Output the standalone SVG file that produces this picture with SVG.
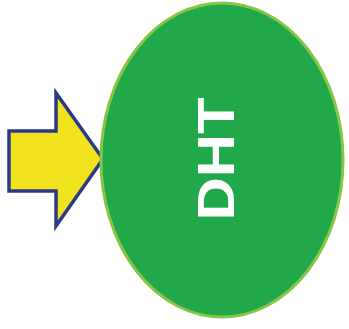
<svg xmlns="http://www.w3.org/2000/svg" width="349" height="329" viewBox="0 0 349 329">
<style>
.arrow{fill:#f0e21c;stroke:#2b3a86;stroke-width:3.5;stroke-linejoin:miter}
.node{fill:#20a84b;stroke:#86c646;stroke-width:3}
.lbl{font-family:"Liberation Sans",Arial,sans-serif;font-weight:bold;fill:#ffffff}
</style>
<rect width="349" height="329" fill="#ffffff"/>
<g id="connectors">
<polygon class="arrow" points="9,131 56,131 56,93 103,159 56,226 56,191 9,191"/>
</g>
<g id="dht">
<ellipse class="node" cx="222" cy="160" rx="121" ry="157"/>
<text class="lbl" transform="translate(234,159) rotate(-90)" text-anchor="middle" font-size="51" textLength="123" lengthAdjust="spacingAndGlyphs">DHT</text>
</g>
</svg>
